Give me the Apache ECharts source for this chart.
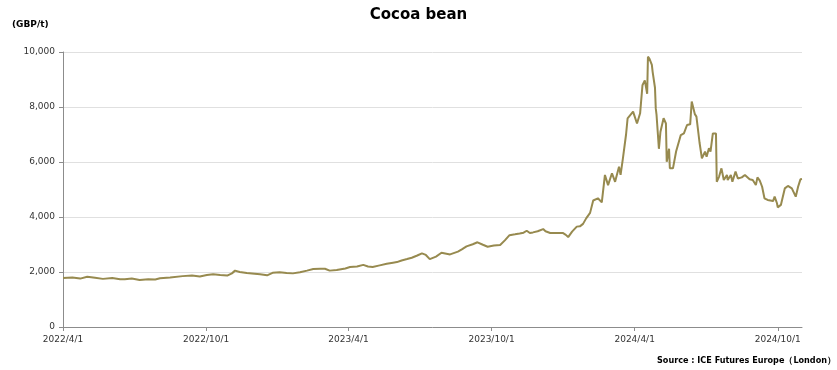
<!DOCTYPE html>
<html>
<head>
<meta charset="utf-8">
<script src="https://cdn.jsdelivr.net/npm/echarts@6/dist/echarts.min.js"></script>
<style>
  html, body { margin: 0; padding: 0; background: #fff; }
  #chart { width: 837px; height: 370px; }
</style>
</head>
<body>
<div id="chart"></div>
<script>
// price dates (GBP/t)
var dates = [
  '2022/4/1','2022/4/13','2022/4/23','2022/5/2','2022/5/12','2022/5/22','2022/6/3','2022/6/13','2022/6/19','2022/6/28',
  '2022/7/8','2022/7/19','2022/7/28','2022/8/3','2022/8/16','2022/9/1','2022/9/13','2022/9/23','2022/10/2','2022/10/10',
  '2022/10/19','2022/10/28','2022/11/3','2022/11/7','2022/11/13','2022/11/22','2022/12/2','2022/12/9','2022/12/18','2022/12/25',
  '2023/1/3','2023/1/12','2023/1/20','2023/1/29','2023/2/7','2023/2/15','2023/2/24','2023/3/2','2023/3/8','2023/3/17',
  '2023/3/28','2023/4/3','2023/4/12','2023/4/20','2023/4/26','2023/5/2','2023/5/11','2023/5/20','2023/5/28','2023/6/2',
  '2023/6/8','2023/6/15','2023/6/21','2023/6/28','2023/7/4','2023/7/9','2023/7/14','2023/7/22','2023/7/29','2023/8/9',
  '2023/8/19','2023/8/24','2023/8/30','2023/9/7','2023/9/13','2023/9/20','2023/9/26','2023/10/4','2023/10/12','2023/10/18',
  '2023/10/24','2023/10/31','2023/11/6','2023/11/11','2023/11/15','2023/11/19','2023/11/23','2023/11/29','2023/12/6','2023/12/9',
  '2023/12/15','2023/12/22','2023/12/31','2024/1/4','2024/1/7','2024/1/12','2024/1/18','2024/1/22','2024/1/26','2024/1/30',
  '2024/2/4','2024/2/8','2024/2/14','2024/2/19','2024/2/23','2024/2/25','2024/2/27','2024/3/3','2024/3/7','2024/3/12',
  '2024/3/14','2024/3/17','2024/3/21','2024/3/23','2024/3/30','2024/4/1','2024/4/4','2024/4/8','2024/4/11','2024/4/14',
  '2024/4/17','2024/4/18','2024/4/20','2024/4/23','2024/4/24','2024/4/27','2024/4/28','2024/4/29','2024/5/2','2024/5/4',
  '2024/5/8','2024/5/11','2024/5/12','2024/5/15','2024/5/16','2024/5/20','2024/5/24','2024/5/26','2024/5/30','2024/6/3',
  '2024/6/7','2024/6/11','2024/6/13','2024/6/17','2024/6/19','2024/6/23','2024/6/26','2024/6/30','2024/7/2','2024/7/5',
  '2024/7/7','2024/7/10','2024/7/14','2024/7/15','2024/7/18','2024/7/21','2024/7/24','2024/7/28','2024/7/29','2024/8/2',
  '2024/8/4','2024/8/8','2024/8/11','2024/8/16','2024/8/20','2024/8/26','2024/8/30','2024/9/3','2024/9/5','2024/9/8',
  '2024/9/11','2024/9/14','2024/9/18','2024/9/25','2024/9/27','2024/9/30','2024/10/1','2024/10/5','2024/10/7','2024/10/10',
  '2024/10/14','2024/10/19','2024/10/24','2024/10/27','2024/10/30','2024/11/1'
];
var prices = [
  1780,1800,1760,1830,1790,1750,1780,1740,1735,1760,
  1710,1740,1730,1770,1800,1850,1870,1840,1890,1920,
  1890,1870,1950,2050,2000,1960,1940,1920,1880,1970,
  1990,1960,1950,1990,2050,2110,2120,2120,2050,2070,
  2130,2180,2200,2260,2200,2180,2240,2300,2340,2360,
  2420,2470,2520,2600,2680,2620,2470,2560,2700,2640,
  2740,2820,2930,3010,3080,2990,2920,2960,2980,3150,
  3340,3370,3400,3430,3500,3420,3440,3480,3560,3480,
  3420,3420,3420,3350,3270,3470,3650,3660,3750,3950,
  4150,4600,4680,4530,5530,5590,5160,5590,5280,5830,
  5530,6130,7000,7590,7830,7890,7400,7770,8790,8970,
  8480,9830,9750,9530,9280,8700,7950,7710,6480,7100,
  7590,7400,6010,6480,5770,5770,6380,6400,6980,7040,
  7345,7370,8200,7740,7650,6700,6130,6380,6190,6500,
  6380,7040,7040,5280,5470,5770,5345,5530,5345,5530,
  5280,5650,5400,5440,5530,5370,5345,5160,5440,5320,
  5100,4680,4620,4580,4740,4500,4350,4440,4440,5040,
  5130,5040,4740,5100,5370,5380
];
var firstDay = '2022/4/1';
var lastDay = '2024/11/1';
var tickDays = ['2022/4/1', '2022/10/1', '2023/4/1', '2023/10/1', '2024/4/1', '2024/10/1'];

// one category per calendar day
var days = [];
var p = firstDay.split('/');
var cur = new Date(Date.UTC(+p[0], +p[1] - 1, +p[2]));
while (true) {
  var s = cur.getUTCFullYear() + '/' + (cur.getUTCMonth() + 1) + '/' + cur.getUTCDate();
  days.push(s);
  if (s === lastDay) break;
  cur = new Date(cur.getTime() + 86400000);
}

var isTick = function (idx, val) { return tickDays.indexOf(val) >= 0; };

var myChart = echarts.init(document.getElementById('chart'));
myChart.setOption({
  animation: false,
  textStyle: { fontFamily: 'DejaVu Sans' },
  title: [
    {
      text: 'Cocoa bean',
      left: 'center',
      top: 3,
      textStyle: { fontSize: 15, fontWeight: 'bold', color: '#000', fontFamily: 'DejaVu Sans' }
    },
    {
      text: '(GBP/t)',
      left: 7,
      top: 15,
      textStyle: { fontSize: 9, fontWeight: 'bold', color: '#000', fontFamily: 'DejaVu Sans' }
    },
    {
      text: 'Source : ICE Futures Europe\uFF08London\uFF09',
      right: -4,
      top: 351,
      textStyle: { fontSize: 9, fontWeight: 'bold', color: '#000', fontFamily: 'DejaVu Sans Condensed' }
    }
  ],
  grid: { left: 63, right: 35, top: 52, bottom: 43, containLabel: false },
  xAxis: {
    type: 'category',
    data: days,
    boundaryGap: false,
    axisLine: { lineStyle: { color: '#8c8c8c', width: 1 } },
    axisTick: { show: true, interval: isTick, length: 4, lineStyle: { color: '#8c8c8c' } },
    axisLabel: { interval: isTick, color: '#333', fontSize: 9, margin: 8, fontFamily: 'DejaVu Sans' },
    splitLine: { show: false }
  },
  yAxis: {
    type: 'value',
    min: 0,
    max: 10000,
    interval: 2000,
    axisLine: { show: true, lineStyle: { color: '#8c8c8c', width: 1 } },
    axisTick: { show: true, length: 4, lineStyle: { color: '#8c8c8c' } },
    axisLabel: {
      color: '#333', fontSize: 9, margin: 8, fontFamily: 'DejaVu Sans',
      formatter: function (v) { return v.toLocaleString('en-US'); }
    },
    splitLine: { lineStyle: { color: '#e0e0e0', width: 1 } }
  },
  series: [{
    name: 'Cocoa bean',
    type: 'line',
    data: dates.map(function (d, i) { return [d, prices[i]]; }),
    showSymbol: false,
    symbol: 'none',
    lineStyle: { color: '#978a4f', width: 2 },
    itemStyle: { color: '#978a4f' }
  }]
});
</script>
</body>
</html>
